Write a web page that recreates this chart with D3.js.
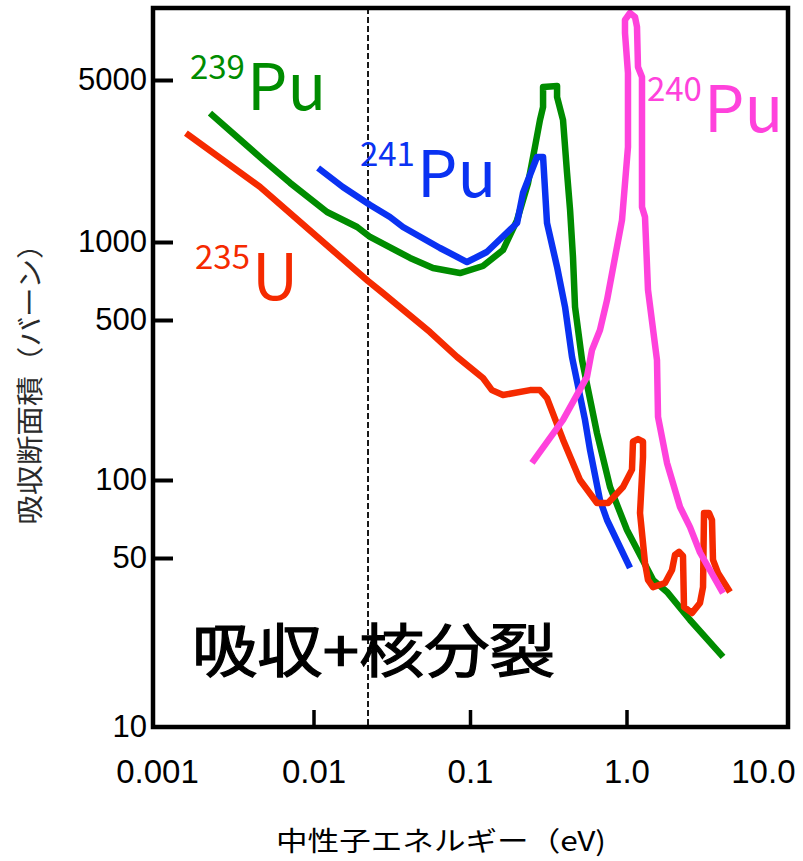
<!doctype html>
<html lang="ja">
   <head>
      <meta charset="utf-8">
      <title>吸収断面積</title>
      <style>
        body{ margin:0; background:#fff; }
        svg{ display:block; font-family:"Noto Sans CJK JP", "Noto Sans", sans-serif; }
      </style>
   </head>
   <body>
      <div id="aqui"></div>
      <script src="https://cdn.jsdelivr.net/npm/d3@7/dist/d3.min.js"></script>
      <script>
         // datos: [energía (eV), sección eficaz (barn)]
         var xTicks = [0.001, 0.01, 0.1, 1, 10];
         var xTickLabels = ["0.001", "0.01", "0.1", "1.0", "10.0"];
         var yTicks = [5000, 1000, 500, 100, 50, 10];
         var thermal = 0.0223;

         var u235 = [[0.00153,2950],[0.00455,1730],[0.0127,950],[0.0223,707],[0.0278,635],[0.0555,443],
           [0.0826,345],[0.121,279],[0.138,247],[0.1625,235],[0.242,247],[0.280,247],[0.3105,228],
           [0.393,150],[0.5045,100],[0.648,81.5],[0.762,81.5],[0.950,94],[1.084,111],[1.100,147],
           [1.184,151],[1.275,147],[1.275,126],[1.220,74.6],[1.313,47.7],[1.372,40.6],[1.477,37.9],
           [1.762,39.4],[1.953,44.6],[2.041,51.4],[2.165,52.8],[2.296,50.9],[2.330,31.4],[2.621,29.6],
           [2.949,32.6],[3.083,37.9],[3.128,74.6],[3.367,74.6],[3.518,70.1],[3.570,49.1],[3.843,43.4],
           [4.585,36.2]];
         var pu239 = [[0.00218,3600],[0.00325,2840],[0.00476,2260],[0.00708,1800],[0.0122,1347],
           [0.0190,1161],[0.0230,1051],[0.0414,868],[0.0580,794],[0.0863,759],[0.121,808],[0.1625,931],
           [0.200,1244],[0.235,1797],[0.260,2570],[0.280,3361],[0.293,3824],[0.293,4665],[0.360,4711],
           [0.360,4224],[0.393,3361],[0.417,1985],[0.436,1374],[0.455,875],[0.469,561],[0.520,334],
           [0.648,160],[0.785,94],[1.007,64.1],[1.477,40.6],[1.815,36.2],[2.546,27.7],[4.137,19.5]];
         var pu241 = [[0.0107,2086],[0.0154,1727],[0.0230,1444],[0.0308,1282],[0.0373,1161],[0.0643,948],
           [0.0957,837],[0.128,915],[0.200,1208],[0.218,1627],[0.268,2327],[0.293,2327],[0.3105,1208],
           [0.360,801],[0.405,561],[0.4485,345],[0.543,183],[0.585,135],[0.677,83.7],[0.751,70.1],
           [1.053,45.5]];
         var pu240 = [[0.249,118.7],[0.393,183],[0.559,282],[0.602,370],[0.677,452],[0.751,597],
           [0.936,1244],[1.022,2570],[1.022,5360],[0.978,7977],[0.978,9078],[1.053,9730],[1.133,9352],
           [1.167,8467],[1.184,5690],[1.256,5152],[1.256,2570],[1.256,1416],[1.313,1282],[1.372,653],
           [1.566,334],[1.590,188.5],[1.815,118.7],[2.198,78.7],[2.546,65.8],[2.949,52.5],[4.137,35.8]];

         // etiquetas: número másico, símbolo, punto de anclaje [eV, barn]
         var etiquetas = [
           {masa:"239", sym:"Pu", at:[0.001625, 3711], serie:pu239, color:"#008c00"},
           {masa:"241", sym:"Pu", at:[0.0198, 1563], serie:pu241, color:"#0a32f2"},
           {masa:"235", sym:"U", at:[0.00175, 597], serie:u235, color:"#f52a00"},
           {masa:"240", sym:"Pu", at:[1.352, 2983], serie:pu240, color:"#ff42dc"}
         ];

         var w = 803, h = 861;
         var frame = {left:153, right:788, top:8, bottom:727};

         var x = d3.scaleLog().domain([0.001, 10]).range([157, 783]);
         // eje dibujado a mano: cada década no mide lo mismo
         var y = d3.scaleLog().domain([10, 50, 100, 500, 1000, 5000]).range([727, 558, 480, 320, 242, 80]);

         var svg = d3.select("#aqui")
           .append("svg")
           .attr("width", w)
           .attr("height", h);

         svg.append("rect").attr("width", w).attr("height", h).attr("fill", "#fff");

         // línea térmica punteada
         svg.append("line")
           .attr("x1", x(thermal)).attr("x2", x(thermal))
           .attr("y1", frame.top).attr("y2", frame.bottom)
           .attr("stroke", "#000")
           .attr("stroke-width", 1.8)
           .attr("stroke-dasharray", "6,3");

         // curvas
         var line = d3.line()
           .x(function(d) { return x(d[0]); })
           .y(function(d) { return y(d[1]); });

         svg.selectAll("path.curva")
           .data(etiquetas)
           .enter()
           .append("path")
           .attr("class", "curva")
           .attr("d", function(d) { return line(d.serie); })
           .attr("fill", "none")
           .attr("stroke", function(d) { return d.color; })
           .attr("stroke-width", 6.5)
           .attr("stroke-linejoin", "round");

         // nombres de isótopos
         var t = svg.selectAll("text.iso")
           .data(etiquetas)
           .enter()
           .append("text")
           .attr("class", "iso")
           .attr("x", function(d) { return x(d.at[0]); })
           .attr("y", function(d) { return y(d.at[1]); })
           .attr("fill", function(d) { return d.color; });
         t.append("tspan")
           .attr("dy", -31)
           .style("font-size", "33px")
           .text(function(d) { return d.masa; });
         t.append("tspan")
           .attr("dy", 31)
           .attr("dx", 2)
           .style("font-size", "64px")
           .text(function(d) { return d.sym; });

         // marco
         svg.append("rect")
           .attr("x", frame.left).attr("y", frame.top)
           .attr("width", frame.right - frame.left)
           .attr("height", frame.bottom - frame.top)
           .attr("fill", "none")
           .attr("stroke", "#000")
           .attr("stroke-width", 4.5);

         // ejes con marcas hacia adentro
         var ejeY = svg.append("g")
           .attr("transform", "translate(" + frame.left + ",0)")
           .call(d3.axisLeft(y).tickValues(yTicks).tickFormat(d3.format("d"))
             .tickSizeInner(-20).tickSizeOuter(0).tickPadding(6));
         ejeY.select(".domain").remove();
         ejeY.selectAll("line").attr("stroke-width", 4)
           .filter(function(d) { return d == 10; }).remove();
         ejeY.selectAll("text").style("font-size", "31px").attr("fill", "#000").style("font-family", "inherit");

         var ejeX = svg.append("g")
           .attr("transform", "translate(0," + frame.bottom + ")")
           .call(d3.axisBottom(x).tickValues(xTicks)
             .tickFormat(function(d, i) { return xTickLabels[i]; })
             .tickSizeInner(-17).tickSizeOuter(0).tickPadding(33));
         ejeX.select(".domain").remove();
         ejeX.selectAll("line").attr("stroke-width", 3.5)
           .filter(function(d) { return d == 0.001 || d == 10; }).remove();
         ejeX.selectAll("text").style("font-size", "33px").attr("fill", "#000").style("font-family", "inherit");
         // el último rótulo se corre hacia adentro para que quepa
         ejeX.selectAll("text").filter(function(d) { return d == 10; })
           .attr("text-anchor", "end").attr("x", 12);

         // títulos
         svg.append("text")
           .attr("x", 192).attr("y", 672)
           .attr("textLength", 363)
           .attr("lengthAdjust", "spacingAndGlyphs")
           .style("font-size", "58px")
           .attr("fill", "#000")
           .attr("stroke", "#000")
           .attr("stroke-width", 1.2)
           .text("吸収+核分裂");

         svg.append("text")
           .attr("transform", "translate(40,377) rotate(-90) scale(1.1,1)")
           .attr("text-anchor", "middle")
           .style("font-size", "27px")
           .attr("fill", "#2a2a2a")
           .text("吸収断面積（バーン）");

         svg.append("text")
           .attr("transform", "translate(441,851) scale(1.17,1)")
           .attr("text-anchor", "middle")
           .style("font-size", "27px")
           .attr("fill", "#000")
           .text("中性子エネルギー（eV)");
      </script>
   </body>
</html>
